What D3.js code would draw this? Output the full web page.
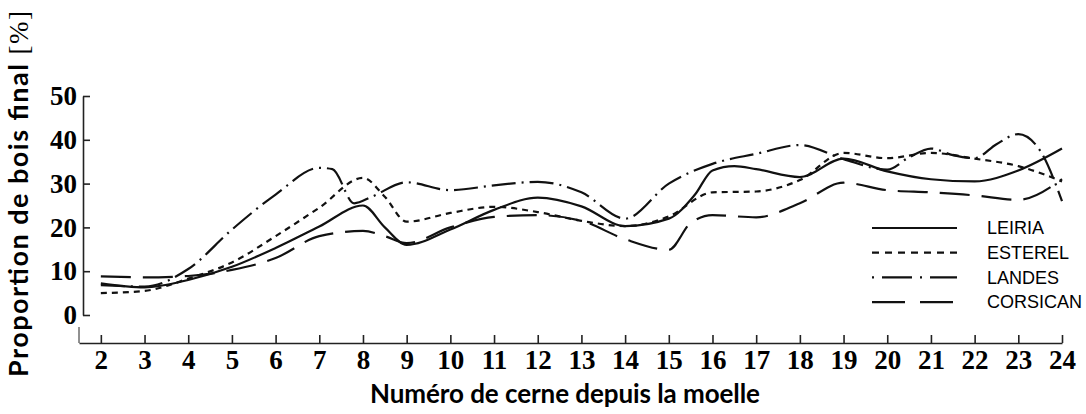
<!DOCTYPE html>
<html>
<head>
<meta charset="utf-8">
<script src="https://cdn.jsdelivr.net/npm/d3@7"></script>
<style>
  body { margin: 0; background: #fff; }
  .tick text { fill: #000; }
</style>
</head>
<body>
<script>

var width = 1086,
    height = 414;

var ringTicks = [2, 3, 4, 5, 6, 7, 8, 9, 10, 11, 12, 13, 14, 15, 16, 17, 18, 19, 20, 21, 22, 23, 24];
var pctTicks = [0, 10, 20, 30, 40, 50];

// [ring number, % latewood]
var leiria = [[2, 7.2], [3, 6.3], [4, 8], [5, 11], [6, 15.3], [7, 20.2], [8, 25], [8.5, 20], [9, 16],
  [10, 19.5], [11, 24], [12, 26.8], [13, 24.8], [14, 20.3], [15, 22], [15.6, 27.5], [16, 33],
  [16.5, 34], [17, 33.3], [18, 31.5], [19, 35.7], [20, 32.8], [21, 31], [22, 30.5], [23, 33], [24, 38]];

var esterel = [[2, 5], [3, 5.5], [4, 8.3], [5, 12], [6, 18], [7, 24.5], [8, 31.3], [8.5, 27], [9, 21.3],
  [10, 23.3], [11, 24.7], [12, 23.5], [13, 21.5], [14, 20.3], [15, 22.5], [16, 28], [17, 28.2],
  [18, 30.8], [19, 37], [20, 35.8], [21, 37], [22, 35.7], [23, 34], [24, 30.5]];

var landes = [[2, 6.8], [3, 6.5], [4, 10.5], [5, 19.5], [6, 27.5], [7, 33.6], [7.3, 33.3], [7.8, 25.5],
  [8.2, 27], [9, 30.3], [10, 28.5], [11, 29.6], [12, 30.4], [13, 28], [14, 22], [15, 30], [16, 34.5],
  [17, 36.8], [18, 38.8], [19, 35.6], [20, 33.2], [20.5, 36], [21, 38], [21.5, 36.5], [22, 35.8],
  [22.5, 39], [23, 41.3], [23.5, 37.5], [24, 26]];

var corsican = [[2, 8.8], [3, 8.6], [4, 8.9], [5, 10.3], [6, 13], [7, 18], [8, 19.2], [8.5, 18], [9, 16.4],
  [10, 20], [11, 22.4], [12, 22.8], [13, 21.5], [14, 17.3], [15, 14.9], [15.5, 21], [16, 22.8],
  [17, 22.3], [18, 25.5], [19, 30.2], [20, 28.5], [21, 28], [22, 27.3], [23, 26.3], [24, 31]];

var names = ["LEIRIA", "ESTEREL", "LANDES", "CORSICAN"];
var dashes = ["none", "6,5", "24,6,2,6", "30,12"];
var legendDashes = ["none", "7,6", "2,8,30,8", "33,15"];

var svg = d3.select("body").append("svg")
    .attr("width", width)
    .attr("height", height);

var x = d3.scaleLinear()
    .domain([1.5, 24])
    .range([79, 1062]);

var y = d3.scaleLinear()
    .domain([0, 50])
    .range([315, 96]);

// x axis, ticks pointing up
var gx = svg.append("g")
    .attr("transform", "translate(0,343)")
    .call(d3.axisBottom(x)
      .tickValues(ringTicks)
      .tickSizeInner(-8)
      .tickSizeOuter(0)
      .tickPadding(7)
      .tickFormat(d3.format("d")));

gx.append("line")
    .attr("x1", x(1.5)).attr("x2", x(1.5))
    .attr("y1", 0).attr("y2", -16)
    .attr("stroke", "#222");

// y axis, ticks pointing right
var gy = svg.append("g")
    .attr("transform", "translate(83,0)")
    .call(d3.axisLeft(y)
      .tickValues(pctTicks)
      .tickSizeInner(-7)
      .tickSizeOuter(0)
      .tickPadding(6));

svg.selectAll(".domain, .tick line")
    .attr("stroke", "#222")
    .attr("stroke-width", 1.6);

svg.selectAll(".tick text")
    .style("font-family", "'Liberation Serif', serif")
    .style("font-weight", "bold")
    .style("font-size", "27px");

// curves
var line = d3.line()
    .x(function(d) { return x(d[0]); })
    .y(function(d) { return y(d[1]); })
    .curve(d3.curveMonotoneX);

svg.selectAll(".series")
    .data([leiria, esterel, landes, corsican])
  .enter().append("path")
    .attr("class", "series")
    .attr("fill", "none")
    .attr("stroke", "#111")
    .attr("stroke-width", 2.2)
    .attr("stroke-dasharray", function(d, i) { return dashes[i]; })
    .attr("d", line);

// legend
var legend = svg.selectAll(".legend")
    .data(names)
  .enter().append("g")
    .attr("class", "legend")
    .attr("transform", function(d, i) { return "translate(872," + (228 + i * 24.7) + ")"; });

legend.append("line")
    .attr("x1", 0).attr("x2", 85)
    .attr("stroke", "#111")
    .attr("stroke-width", 2.2)
    .attr("stroke-dasharray", function(d, i) { return legendDashes[i]; });

legend.append("text")
    .attr("x", 115)
    .attr("dy", "0.35em")
    .style("font-family", "'Liberation Sans', sans-serif")
    .style("font-size", "18px")
    .text(function(d) { return d; });

// axis titles
svg.append("text")
    .attr("x", 565)
    .attr("y", 403)
    .attr("text-anchor", "middle")
    .attr("textLength", 390)
    .style("font-family", "Lato, sans-serif")
    .style("font-weight", "bold")
    .style("font-size", "26px")
    .text("Numéro de cerne depuis la moelle");

var ytitle = svg.append("text")
    .attr("transform", "translate(28,194) rotate(-90)")
    .attr("text-anchor", "middle")
    .attr("textLength", 366)
    .style("font-family", "Lato, sans-serif")
    .style("font-weight", "bold")
    .style("font-size", "27px")
    .text("Proportion de bois final ");

ytitle.append("tspan")
    .style("font-family", "'Liberation Serif', serif")
    .style("font-weight", "normal")
    .text("[%]");

</script>
</body>
</html>
